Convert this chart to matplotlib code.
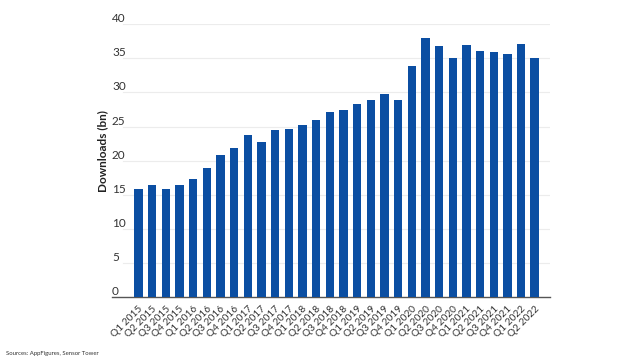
import matplotlib
matplotlib.use('Agg')
import matplotlib.pyplot as plt
import numpy as np

plt.rcParams['font.family'] = ['Lato', 'DejaVu Sans']

# Quarterly app downloads (bn)
quarters = ['Q1 2015', 'Q2 2015', 'Q3 2015', 'Q4 2015',
            'Q1 2016', 'Q2 2016', 'Q3 2016', 'Q4 2016',
            'Q1 2017', 'Q2 2017', 'Q3 2017', 'Q4 2017',
            'Q1 2018', 'Q2 2018', 'Q3 2018', 'Q4 2018',
            'Q1 2019', 'Q2 2019', 'Q3 2019', 'Q4 2019',
            'Q1 2020', 'Q2 2020', 'Q3 2020', 'Q4 2020',
            'Q1 2021', 'Q2 2021', 'Q3 2021', 'Q4 2021',
            'Q1 2022', 'Q2 2022']
downloads = [15.8, 16.5, 15.8, 16.4, 17.3, 19.0, 20.8, 21.8,
             23.8, 22.7, 24.5, 24.6, 25.2, 26.0, 27.1, 27.4,
             28.3, 28.9, 29.7, 28.9, 33.8, 38.0, 36.8, 35.1,
             37.0, 36.0, 35.9, 35.6, 37.1, 35.1]
yticks = [0, 5, 10, 15, 20, 25, 30, 35, 40]

fig = plt.figure(figsize=(6.4, 3.6), dpi=100)
ax = fig.add_axes([0.175, 0.174, 0.684, 0.759])

x = np.arange(len(quarters))
ax.bar(x, downloads, width=0.62, color='#0b4ea2', zorder=3)

ax.set_xlim(-1.94, 30.1)
ax.set_ylim(0, 40)

# light gridlines that start just right of the labels
for v in yticks[1:]:
    ax.axhline(v, xmin=0.025, xmax=1, color='#ececec', linewidth=0.8, zorder=1)

# y tick labels sit above their gridline, left aligned
ax.set_yticks([])
for v in yticks:
    ax.text(0.0, v, str(v), transform=ax.get_yaxis_transform(),
            ha='left', va='bottom', fontsize=8.5, color='#333333')

ax.set_xticks(x)
ax.set_xticklabels(quarters, rotation=45, ha='right', rotation_mode='anchor',
                   fontsize=7.3, color='#333333')
ax.tick_params(axis='x', length=0, pad=5)

for s in ['top', 'right', 'left']:
    ax.spines[s].set_visible(False)
ax.spines['bottom'].set_color('#555555')
ax.spines['bottom'].set_linewidth(1.0)

fig.text(0.161, 0.58, 'Downloads (bn)', rotation=90, ha='center', va='center',
         fontsize=8.5, fontweight='bold', color='#222222')
fig.text(0.009, 0.012, 'Sources: AppFigures, Sensor Tower', fontsize=4.3,
         color='#333333', ha='left', va='bottom')

fig.savefig('out.png', dpi=100)
